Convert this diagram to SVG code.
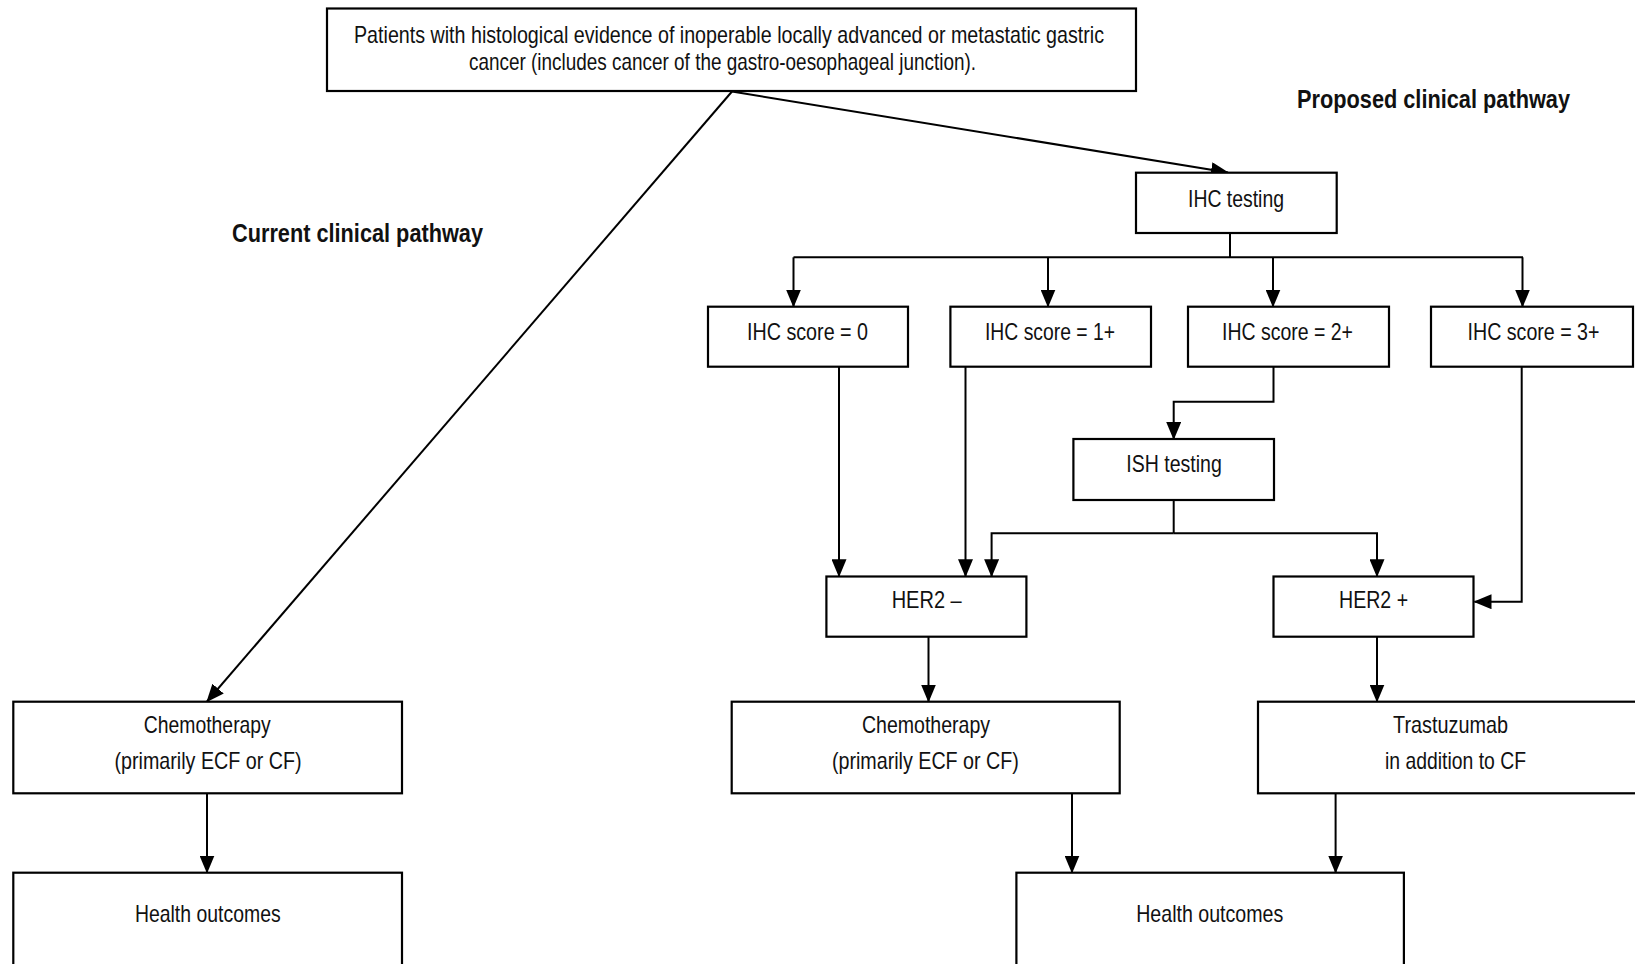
<svg xmlns="http://www.w3.org/2000/svg" width="1635" height="964" viewBox="0 0 1635 964">
  <style>
    .box { fill: #ffffff; stroke: #000000; stroke-width: 2.2; }
    .lbl { font-family: "Liberation Sans Narrow", "Liberation Sans", Arial, sans-serif; font-size: 24px; fill: #111111; text-anchor: middle; }
    .head { font-family: "Liberation Sans Narrow", "Liberation Sans", Arial, sans-serif; font-size: 25px; font-weight: bold; fill: #111111; }
    .wire { fill: none; stroke: #000000; stroke-width: 2; }
    .arrow { fill: none; stroke: #000000; stroke-width: 2; marker-end: url(#head); }
  </style>
  <defs>
    <marker id="head" markerUnits="userSpaceOnUse" markerWidth="18" markerHeight="15" viewBox="0 0 18 15" refX="17" refY="7.5" orient="auto">
      <path d="M0,0 L18,7.5 L0,15 Z" fill="#000000"/>
    </marker>
  </defs>
  <rect width="1635" height="964" fill="#ffffff"/>

  <!-- section headings -->
  <text class="head" x="1297" y="108" textLength="273" lengthAdjust="spacingAndGlyphs">Proposed clinical pathway</text>
  <text class="head" x="232" y="241.5" textLength="251" lengthAdjust="spacingAndGlyphs">Current clinical pathway</text>

  <!-- connectors -->
  <g id="connectors">
    <path class="arrow" d="M732,91.5 L1228,172.5"/>
    <path class="arrow" d="M732,91.5 L207,701.5"/>
    <path class="wire" d="M1230,233 V257.3"/>
    <path class="wire" d="M793.5,257.3 H1523"/>
    <path class="arrow" d="M793.5,257.3 V306.5"/>
    <path class="arrow" d="M1048,257.3 V306.5"/>
    <path class="arrow" d="M1273,257.3 V306.5"/>
    <path class="arrow" d="M1522.5,257.3 V306.5"/>
    <path class="arrow" d="M839,366.7 V576.3"/>
    <path class="arrow" d="M965.5,366.7 V576.3"/>
    <path class="arrow" d="M1273.5,366.7 V401.7 H1173.7 V439"/>
    <path class="wire" d="M1173.7,500 V533.3"/>
    <path class="arrow" d="M1173.7,533.3 H991.6 V576.3"/>
    <path class="arrow" d="M1173.7,533.3 H1377 V576.3"/>
    <path class="arrow" d="M1521.7,366.7 V601.7 H1474.5"/>
    <path class="arrow" d="M928.5,636.7 V701.5"/>
    <path class="arrow" d="M1377,636.7 V701.5"/>
    <path class="arrow" d="M207,793.3 V872.5"/>
    <path class="arrow" d="M1072,793.3 V872.5"/>
    <path class="arrow" d="M1335.6,793.3 V872.5"/>
  </g>

  <!-- nodes -->
  <g id="population">
    <rect class="box" x="327" y="8.5" width="809" height="82.5"/>
    <text class="lbl" x="729" y="42.5" textLength="750" lengthAdjust="spacingAndGlyphs">Patients with histological evidence of inoperable locally advanced or metastatic gastric</text>
    <text class="lbl" x="722.5" y="69.5" textLength="507" lengthAdjust="spacingAndGlyphs">cancer (includes cancer of the gastro-oesophageal junction).</text>
  </g>
  <g id="ihc-testing">
    <rect class="box" x="1136" y="172.7" width="200.7" height="60.3"/>
    <text class="lbl" x="1236" y="206.7" textLength="96" lengthAdjust="spacingAndGlyphs">IHC testing</text>
  </g>
  <g id="ihc-0">
    <rect class="box" x="708" y="306.7" width="200" height="60"/>
    <text class="lbl" x="807.5" y="340" textLength="121" lengthAdjust="spacingAndGlyphs">IHC score = 0</text>
  </g>
  <g id="ihc-1">
    <rect class="box" x="950.4" y="306.7" width="200.6" height="60"/>
    <text class="lbl" x="1050" y="340" textLength="130" lengthAdjust="spacingAndGlyphs">IHC score = 1+</text>
  </g>
  <g id="ihc-2">
    <rect class="box" x="1188" y="306.7" width="201" height="60"/>
    <text class="lbl" x="1287.5" y="340" textLength="131" lengthAdjust="spacingAndGlyphs">IHC score = 2+</text>
  </g>
  <g id="ihc-3">
    <rect class="box" x="1431" y="306.7" width="202" height="60"/>
    <text class="lbl" x="1533.5" y="340" textLength="132" lengthAdjust="spacingAndGlyphs">IHC score = 3+</text>
  </g>
  <g id="ish-testing">
    <rect class="box" x="1073.4" y="439" width="200.6" height="61"/>
    <text class="lbl" x="1174" y="471.7" textLength="95.5" lengthAdjust="spacingAndGlyphs">ISH testing</text>
  </g>
  <g id="her2-neg">
    <rect class="box" x="826.4" y="576.5" width="200" height="60.2"/>
    <text class="lbl" x="926.7" y="608.3" textLength="70" lengthAdjust="spacingAndGlyphs">HER2 –</text>
  </g>
  <g id="her2-pos">
    <rect class="box" x="1273.5" y="576.5" width="200" height="60.2"/>
    <text class="lbl" x="1373.6" y="608.3" textLength="69" lengthAdjust="spacingAndGlyphs">HER2 +</text>
  </g>
  <g id="chemo-current">
    <rect class="box" x="13.3" y="701.7" width="388.7" height="91.6"/>
    <text class="lbl" x="207.3" y="733.3" textLength="127" lengthAdjust="spacingAndGlyphs">Chemotherapy</text>
    <text class="lbl" x="208" y="768.5" textLength="187" lengthAdjust="spacingAndGlyphs">(primarily ECF or CF)</text>
  </g>
  <g id="chemo-proposed">
    <rect class="box" x="731.7" y="701.7" width="388" height="91.6"/>
    <text class="lbl" x="926" y="733.3" textLength="128" lengthAdjust="spacingAndGlyphs">Chemotherapy</text>
    <text class="lbl" x="925.4" y="768.5" textLength="187" lengthAdjust="spacingAndGlyphs">(primarily ECF or CF)</text>
  </g>
  <g id="trastuzumab">
    <rect class="box" x="1258" y="701.7" width="395" height="91.6"/>
    <text class="lbl" x="1450.5" y="733.3" textLength="115" lengthAdjust="spacingAndGlyphs">Trastuzumab</text>
    <text class="lbl" x="1455.5" y="768.5" textLength="141" lengthAdjust="spacingAndGlyphs">in addition to CF</text>
  </g>
  <g id="outcomes-current">
    <rect class="box" x="13.3" y="872.7" width="388.7" height="120"/>
    <text class="lbl" x="207.8" y="921.7" textLength="145.7" lengthAdjust="spacingAndGlyphs">Health outcomes</text>
  </g>
  <g id="outcomes-proposed">
    <rect class="box" x="1016.4" y="872.7" width="387.5" height="120"/>
    <text class="lbl" x="1209.7" y="921.7" textLength="147" lengthAdjust="spacingAndGlyphs">Health outcomes</text>
  </g>
</svg>
